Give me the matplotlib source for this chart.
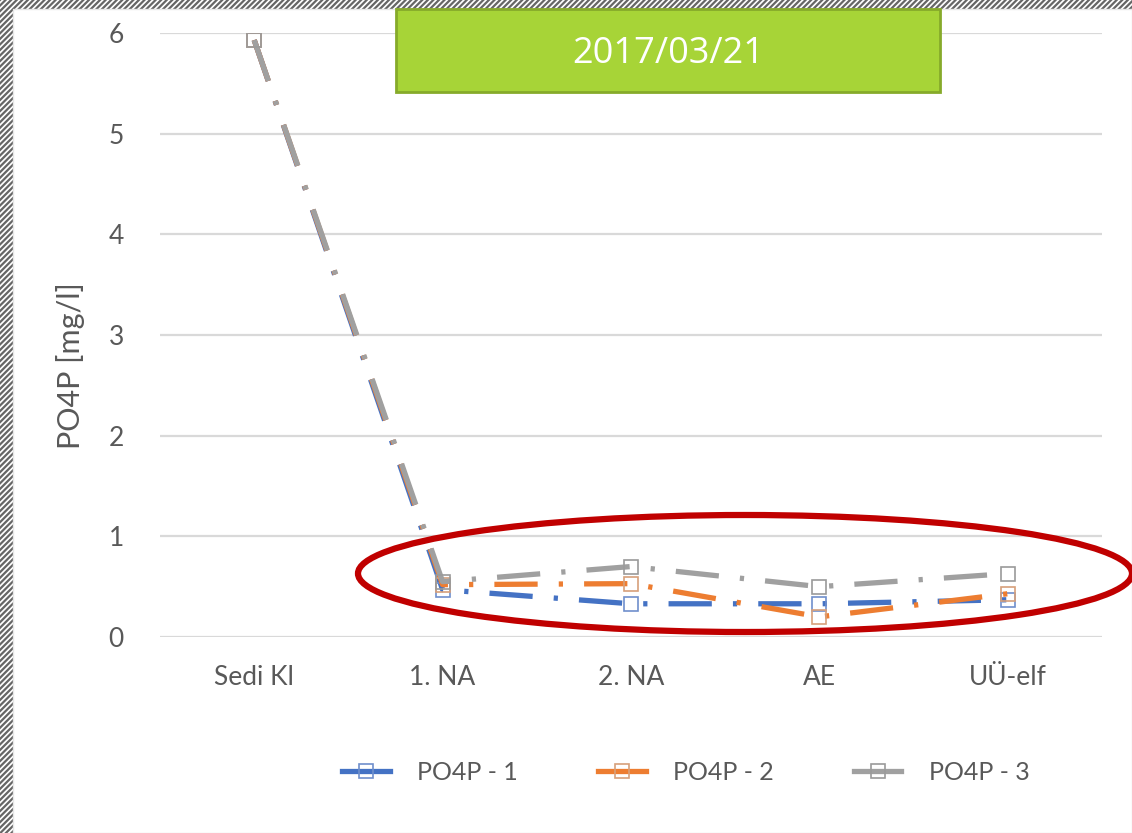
import matplotlib
matplotlib.use("Agg")
import matplotlib.pyplot as plt
from matplotlib.patches import Rectangle, Ellipse
from matplotlib.lines import Line2D

categories = ["Sedi Kl", "1. NA", "2. NA", "AE", "UÜ-elf"]
po4p_1 = [5.93, 0.47, 0.33, 0.33, 0.37]
po4p_2 = [5.93, 0.52, 0.53, 0.20, 0.43]
po4p_3 = [5.93, 0.55, 0.70, 0.50, 0.63]
series_names = ["PO4P - 1", "PO4P - 2", "PO4P - 3"]
yticks = [0, 1, 2, 3, 4, 5, 6]
title_text = "2017/03/21"
ylabel_text = "PO4P [mg/l]"

colors = ["#4472c4", "#ed7d31", "#a0a0a0"]
mk_edges = ["#6f8fcc", "#d7a07a", "#9a9a9a"]

W, H = 1132, 833
fig = plt.figure(figsize=(W / 100, H / 100), dpi=100)
plt.rcParams['font.family'] = ['Lato', 'DejaVu Sans']
plt.rcParams['hatch.linewidth'] = 1.6

# hatched border + white page
fig.add_artist(Rectangle((0, 0), 1, 1, transform=fig.transFigure, facecolor="white",
                         edgecolor="#666666", hatch="//////", linewidth=0, zorder=-10))
fig.add_artist(Rectangle((13 / W, 0), 1 - 13 / W, 1 - 9 / H, transform=fig.transFigure,
                         facecolor="white", edgecolor="#e6e6e6", linewidth=1, zorder=-9))

ax = fig.add_axes([160 / W, (H - 637) / H, 942 / W, 604 / H])
ax.set_facecolor("none")
x = list(range(len(categories)))
handles = []
for vals, c, me, name in zip([po4p_1, po4p_2, po4p_3], colors, mk_edges, series_names):
    ax.plot(x, vals, color=c, lw=3.8, dashes=(8.2, 4.0, 0.8, 4.0), dash_capstyle="butt",
            marker="s", markersize=10, markerfacecolor="none", markeredgecolor=me,
            markeredgewidth=1.2, zorder=3)
    handles.append(Line2D([], [], color=c, lw=3.8, marker="s", markersize=10,
                          markerfacecolor="none", markeredgecolor=me, markeredgewidth=1.2))

ax.set_xlim(-0.5, 4.5)
ax.set_ylim(0, 6)
ax.set_yticks(yticks)
ax.set_xticks(x)
ax.set_xticklabels(categories)
ax.yaxis.grid(True, color="#d9d9d9", lw=1.6)
ax.set_axisbelow(True)
for s in ax.spines.values():
    s.set_visible(False)
ax.tick_params(axis="both", length=0, labelsize=19, colors="#595959", labelcolor="#595959")
ax.tick_params(axis="y", pad=26)
ax.tick_params(axis="x", pad=20)
ax.set_ylabel(ylabel_text, fontsize=22, color="#595959", va="center")
ax.yaxis.set_label_coords(-0.0955, 0.45)

leg = fig.legend(handles, series_names, loc="center", bbox_to_anchor=(0.606, 1 - 772 / H),
                 ncol=3, frameon=False, fontsize=18, handlelength=1.9, handletextpad=1.1,
                 columnspacing=3.2, labelcolor="#595959")

# title box
fig.add_artist(Rectangle((396 / W, 1 - 92 / H), 544 / W, 83 / H, transform=fig.transFigure,
                         facecolor="#a7d437", edgecolor="#86aa2a", linewidth=2, zorder=5))
fig.text(668 / W, 1 - 54 / H, title_text, ha="center", va="center", color="white",
         fontsize=26, family=["Open Sans", "DejaVu Sans"], zorder=6)

# red ellipse
fig.add_artist(Ellipse((745 / W, 1 - 573.5 / H), 774 / W, 117 / H, transform=fig.transFigure,
                       facecolor="none", edgecolor="#c00000", linewidth=4.5, zorder=7))

fig.savefig("out.png", dpi=100)
